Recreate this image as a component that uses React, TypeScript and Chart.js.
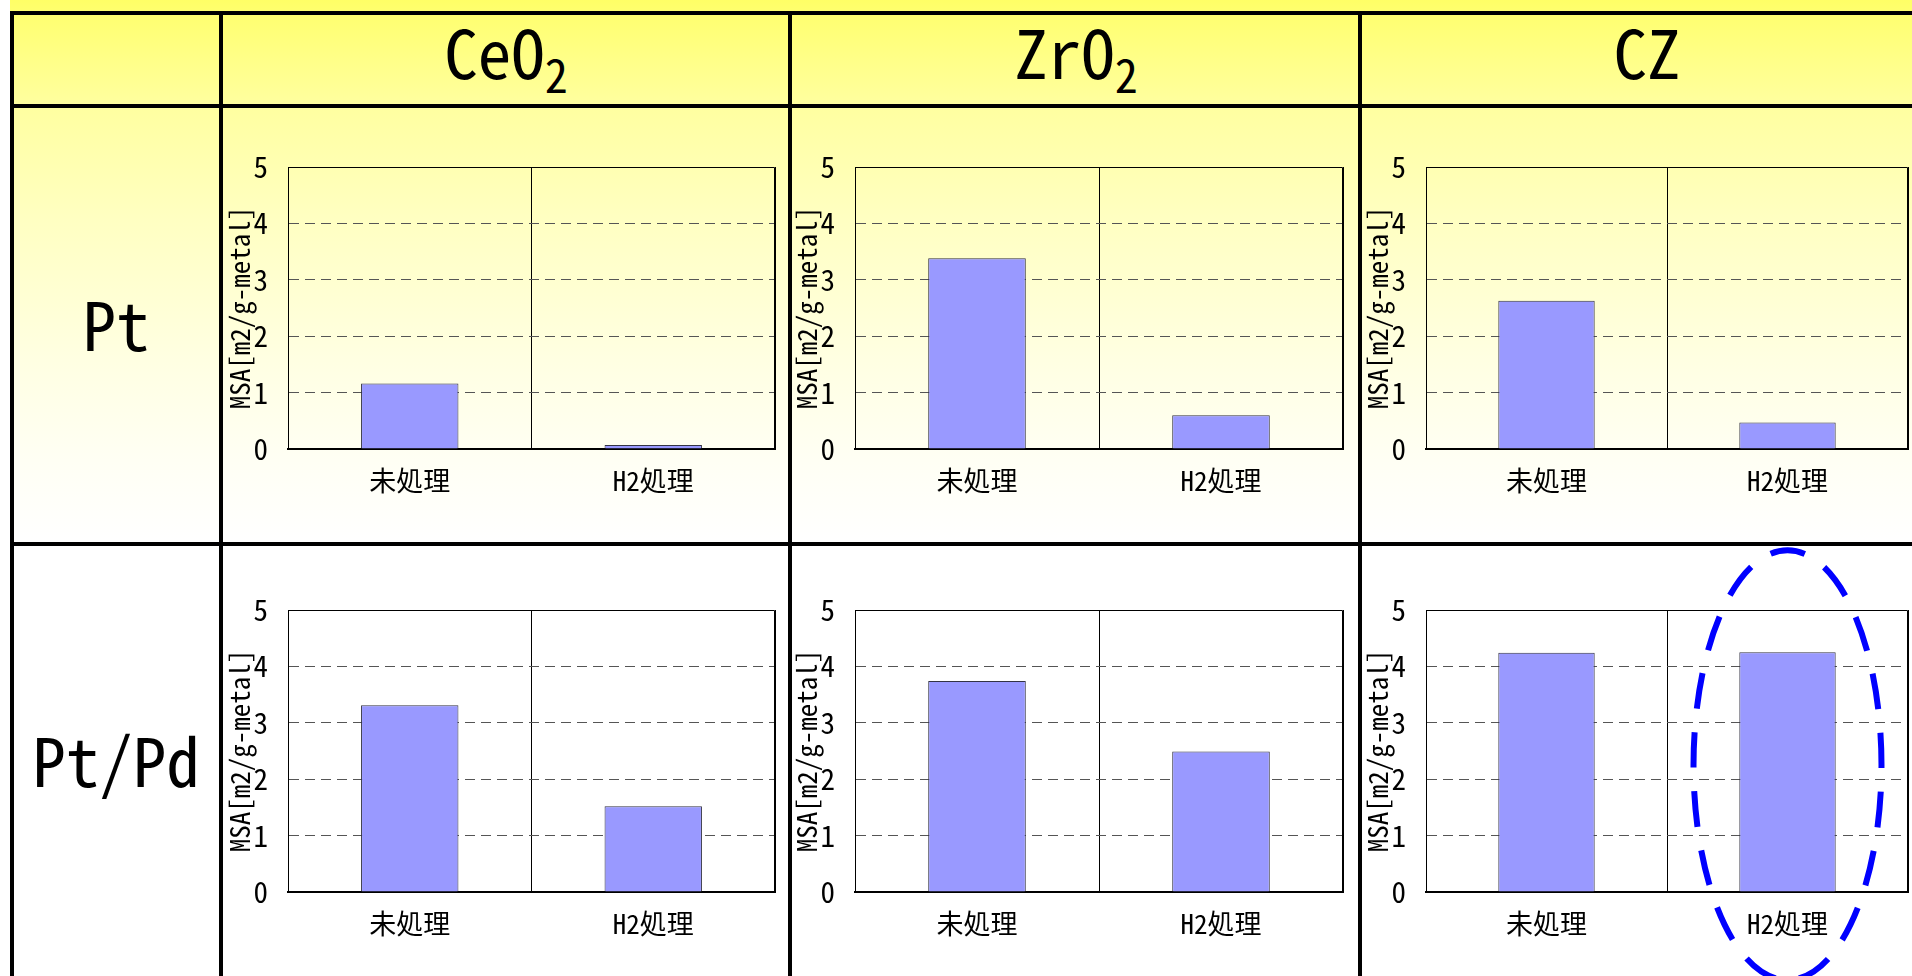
import { useEffect, useRef } from "react";
import { Chart, registerables } from "chart.js";

Chart.register(...registerables);

// Category axis: treatment condition
const treatments = ["未処理", "H2処理"];

// Column headers (support) and row headers (metal)
const supportNames = ["CeO", "ZrO", "CZ"];
const supportSubscripts = ["2", "2", ""];
const metalNames = ["Pt", "Pt/Pd"];

// Metal surface area [m2/g-metal] for each support / metal pair
const ptOnCeO2 = [1.16, 0.07];
const ptOnZrO2 = [3.38, 0.6];
const ptOnCZ = [2.63, 0.47];
const ptPdOnCeO2 = [3.31, 1.52];
const ptPdOnZrO2 = [3.74, 2.49];
const ptPdOnCZ = [4.24, 4.25];

// Value axis
const yTicks = [0, 1, 2, 3, 4, 5];
const axisTitle = "MSA[m2/g-metal]";

const FONT = "'Noto Sans Mono CJK JP', 'Noto Sans CJK JP', 'DejaVu Sans Mono', monospace";

// Plot-area placement of the 3 x 2 panel grid (page pixels)
const plotLeft = [288, 855, 1426];
const plotRight = [775, 1343, 1908];
const plotTop = [167, 610];
const plotBottom = [449, 892];
const AXIS_W = 70;
const PAD_T = 70;
const AXIS_H = 60;
const PAD_B = 45;
const PAD_R = 3;

// Top and right edges of the plot frame
const framePlugin = {
  id: "plotFrame",
  afterDatasetsDraw(chart: any) {
    const { ctx, chartArea: a } = chart;
    ctx.save();
    ctx.strokeStyle = "#000";
    ctx.lineWidth = 1;
    ctx.setLineDash([]);
    const t = Math.round(a.top) + 0.5;
    const r = Math.round(a.right) - 0.5;
    ctx.beginPath();
    ctx.moveTo(a.left, t);
    ctx.lineTo(r, t);
    ctx.lineTo(r, a.bottom);
    ctx.stroke();
    ctx.restore();
  },
};

// Dashed ellipse highlighting one category
const ringPlugin = {
  id: "ringMark",
  afterDraw(chart: any, _args: any, opts: any) {
    if (!opts || !opts.show) return;
    const { ctx } = chart;
    const xs = chart.scales.x;
    const ys = chart.scales.y;
    const cx = xs.getPixelForValue(opts.index);
    const step = xs.getPixelForValue(1) - xs.getPixelForValue(0);
    const rx = step * opts.halfWidth;
    const cy = ys.getPixelForValue(opts.center);
    const ry = ys.getPixelForValue(0) - ys.getPixelForValue(opts.halfHeight);
    const h = ((ry - rx) / (ry + rx)) ** 2;
    const per = Math.PI * (rx + ry) * (1 + (3 * h) / (10 + Math.sqrt(4 - 3 * h)));
    const period = per / opts.dashes;
    const dash = period * 0.6;
    ctx.save();
    ctx.strokeStyle = opts.color;
    ctx.lineWidth = opts.width;
    ctx.lineCap = "butt";
    ctx.setLineDash([dash, period - dash]);
    ctx.lineDashOffset = dash / 2;
    ctx.beginPath();
    ctx.ellipse(cx, cy, rx, ry, 0, -Math.PI / 2, Math.PI * 1.5);
    ctx.stroke();
    ctx.restore();
  },
};

type PanelProps = { values: number[]; col: number; row: number; ring?: boolean };

function Panel({ values, col, row, ring }: PanelProps) {
  const ref = useRef<HTMLCanvasElement | null>(null);
  const left = plotLeft[col] - AXIS_W;
  const top = plotTop[row] - PAD_T;
  const width = plotRight[col] + PAD_R - left;
  const height = plotBottom[row] + AXIS_H + PAD_B - top;

  useEffect(() => {
    if (!ref.current) return;
    const chart = new Chart(ref.current, {
      type: "bar",
      data: {
        labels: treatments,
        datasets: [
          {
            data: values,
            backgroundColor: "#9999ff",
            borderColor: "#333344",
            borderWidth: 1,
            barPercentage: 0.4,
            categoryPercentage: 1,
          },
        ],
      },
      options: {
        responsive: false,
        animation: false,
        devicePixelRatio: 1,
        layout: { padding: { top: PAD_T, right: PAD_R, bottom: PAD_B, left: 0 } },
        plugins: {
          legend: { display: false },
          tooltip: { enabled: false },
          ringMark: ring
            ? { show: true, index: 1, center: 2.25, halfHeight: 3.81, halfWidth: 0.39, dashes: 17, width: 6, color: "#0000ff" }
            : { show: false },
        } as any,
        scales: {
          x: {
            grid: { color: "#000", lineWidth: 1, drawTicks: false, offset: true },
            border: { color: "#000", width: 2 },
            ticks: { color: "#000", font: { family: FONT, size: 27 }, padding: 16 },
            afterFit: (s: any) => {
              s.height = AXIS_H;
            },
          },
          y: {
            min: yTicks[0],
            max: yTicks[yTicks.length - 1],
            ticks: { stepSize: 1, color: "#000", font: { family: FONT, size: 29 }, padding: 20 },
            grid: {
              drawTicks: false,
              lineWidth: 1,
              color: (c: any) =>
                c.tick && (c.tick.value === yTicks[0] || c.tick.value === yTicks[yTicks.length - 1])
                  ? "rgba(0,0,0,0)"
                  : "#555555",
            },
            border: { color: "#000", width: 1, dash: [10, 6] },
            title: {
              display: true,
              text: axisTitle,
              color: "#000",
              font: { family: FONT, size: 27, lineHeight: 1 },
              padding: { top: 8, bottom: 0 },
            },
            afterFit: (s: any) => {
              s.width = AXIS_W;
            },
          },
        },
      } as any,
      plugins: [framePlugin, ringPlugin],
    });
    return () => chart.destroy();
  }, []);

  return (
    <canvas
      ref={ref}
      width={width}
      height={height}
      style={{ position: "absolute", left, top, width, height }}
    />
  );
}

const panels: PanelProps[] = [
  { values: ptOnCeO2, col: 0, row: 0 },
  { values: ptOnZrO2, col: 1, row: 0 },
  { values: ptOnCZ, col: 2, row: 0 },
  { values: ptPdOnCeO2, col: 0, row: 1 },
  { values: ptPdOnZrO2, col: 1, row: 1 },
  { values: ptPdOnCZ, col: 2, row: 1, ring: true },
];

// Table rules (page pixels)
const vRules = [10, 219, 788, 1358];
const hRules = [11, 104, 542];
const headerCenters = [506, 1076, 1647];
const rowLabelY = [351, 787];

export default function App() {
  return (
    <div
      style={{
        position: "absolute",
        left: 0,
        top: 0,
        width: 1912,
        height: 976,
        overflow: "hidden",
        background: "#ffffff",
      }}
    >
      <div
        style={{
          position: "absolute",
          left: 10,
          top: 0,
          width: 1902,
          height: 976,
          background:
            "linear-gradient(to bottom, #ffff66 0px, #ffff70 14px, #ffffa0 106px, #ffffc2 220px, #ffffe2 360px, #fffff4 460px, #ffffff 545px)",
        }}
      />
      <svg
        width={1912}
        height={976}
        style={{ position: "absolute", left: 0, top: 0, pointerEvents: "none" }}
      >
        {vRules.map((x) => (
          <rect key={"v" + x} x={x} y={11} width={4} height={965} fill="#000" />
        ))}
        {hRules.map((y) => (
          <rect key={"h" + y} x={10} y={y} width={1902} height={4} fill="#000" />
        ))}
        {supportNames.map((name, i) => (
          <text
            key={name}
            x={headerCenters[i]}
            y={79}
            textAnchor="middle"
            fontFamily={FONT}
            fontSize={67}
            fill="#000"
          >
            {name}
            {supportSubscripts[i] ? (
              <tspan fontSize={46} dy={14}>
                {supportSubscripts[i]}
              </tspan>
            ) : null}
          </text>
        ))}
        {metalNames.map((name, i) => (
          <text
            key={name}
            x={116}
            y={rowLabelY[i]}
            textAnchor="middle"
            fontFamily={FONT}
            fontSize={67}
            fill="#000"
          >
            {name}
          </text>
        ))}
      </svg>
      {panels.map((p, i) => (
        <Panel key={i} {...p} />
      ))}
    </div>
  );
}
